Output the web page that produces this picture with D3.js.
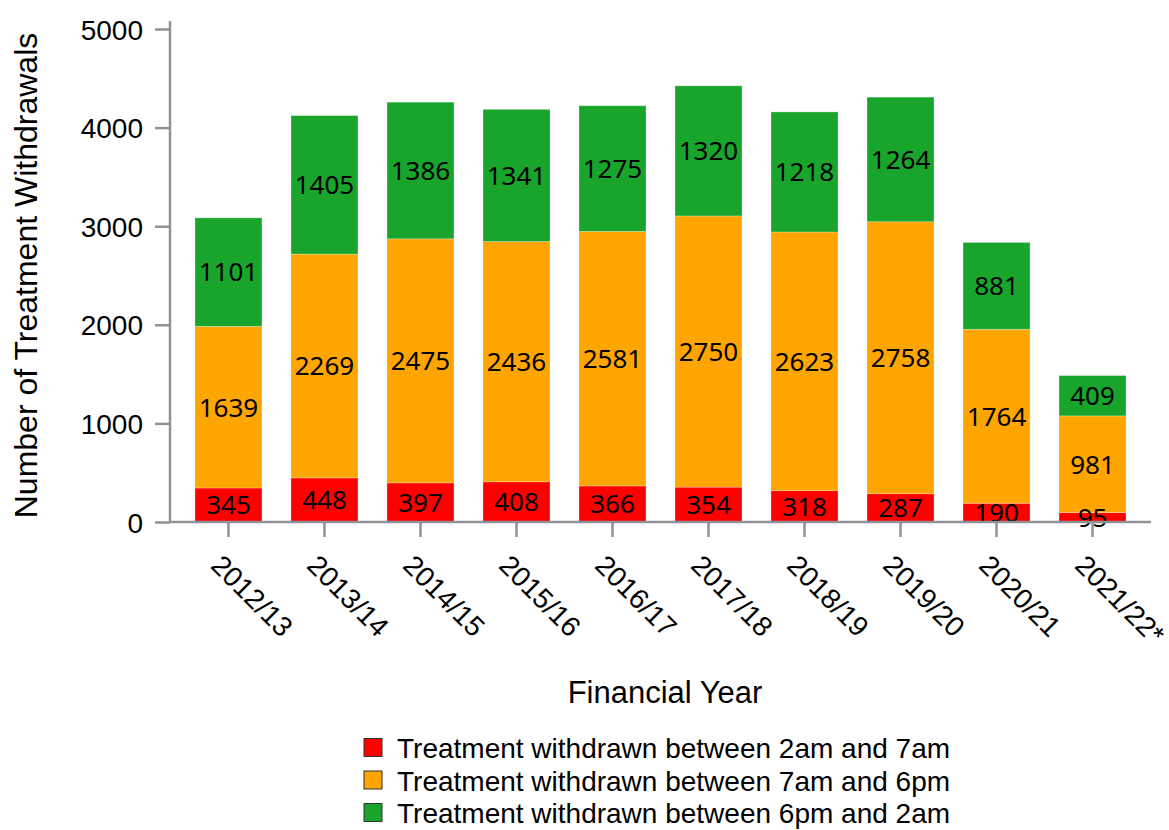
<!DOCTYPE html>
<html>
<head>
<meta charset="utf-8">
<script src="https://cdn.jsdelivr.net/npm/d3@7"></script>
<style>
  html, body { margin: 0; padding: 0; background: #fff; }
  svg { display: block; }
</style>
</head>
<body>
<svg id="chart" width="1169" height="830"></svg>
<script>
const categories = ["2012/13","2013/14","2014/15","2015/16","2016/17","2017/18","2018/19","2019/20","2020/21","2021/22*"];
const early   = [345, 448, 397, 408, 366, 354, 318, 287, 190, 95];     // 2am-7am
const day     = [1639, 2269, 2475, 2436, 2581, 2750, 2623, 2758, 1764, 981]; // 7am-6pm
const evening = [1101, 1405, 1386, 1341, 1275, 1320, 1218, 1264, 881, 409]; // 6pm-2am
const yTicks = [0, 1000, 2000, 3000, 4000, 5000];
const seriesNames = ["Treatment withdrawn between 2am and 7am","Treatment withdrawn between 7am and 6pm","Treatment withdrawn between 6pm and 2am"];
const seriesColors = ["#ff0000", "#ffa500", "#19a52c"];

const svg = d3.select("#chart");
const axisColor = "#8f9296";
const x0 = 170, x1 = 1151, yBottom = 522, yTop = 29;

const x = d3.scaleBand().domain(categories).range([x0, x1]).paddingInner(0.302).paddingOuter(0.26);
const y = d3.scaleLinear().domain([0, 5000]).range([yBottom, yTop]);

const rows = categories.map((c, i) => ({cat: c, early: early[i], day: day[i], evening: evening[i]}));
const stack = d3.stack().keys(["early", "day", "evening"]);
const layers = stack(rows);

const g = svg.append("g");
layers.forEach((layer, li) => {
  g.selectAll(null).data(layer).enter().append("rect")
    .attr("x", d => x(d.data.cat))
    .attr("width", x.bandwidth())
    .attr("y", d => y(d[1]))
    .attr("height", d => y(d[0]) - y(d[1]))
    .attr("fill", seriesColors[li])
    .attr("stroke", "rgba(255,255,255,0.35)")
    .attr("stroke-width", 0.8);
});
layers.forEach((layer, li) => {
  g.selectAll(null).data(layer).enter().append("text")
    .attr("x", d => x(d.data.cat) + x.bandwidth() / 2)
    .attr("y", d => (y(d[0]) + y(d[1])) / 2)
    .attr("dy", "0.36em")
    .attr("text-anchor", "middle")
    .attr("font-family", "'Noto Sans', 'Open Sans', sans-serif")
    .attr("font-size", 26)
    .attr("fill", "#000")
    .text(d => d.data[layer.key]);
});

// Y axis
const yAxis = d3.axisLeft(y).tickValues(yTicks).tickSize(15).tickPadding(12).tickFormat(d3.format("d"));
const ya = svg.append("g").attr("transform", `translate(${x0},0)`).call(yAxis);
ya.select(".domain").attr("stroke", axisColor).attr("stroke-width", 2.5).attr("d", `M0,${yTop - 8}V${yBottom}`);
ya.selectAll(".tick line").attr("stroke", axisColor).attr("stroke-width", 2.5);
ya.selectAll(".tick text").attr("font-family", "'Liberation Sans', Arial, sans-serif").attr("font-size", 28).attr("fill", "#000").attr("dy", "0.36em");

// X axis
const xAxis = d3.axisBottom(x).tickSize(15).tickPadding(0);
const xa = svg.append("g").attr("transform", `translate(0,${yBottom})`).call(xAxis);
xa.select(".domain").attr("stroke", axisColor).attr("stroke-width", 2.5).attr("d", `M${x0},0H${x1}`);
xa.selectAll(".tick line").attr("stroke", axisColor).attr("stroke-width", 2.5);
xa.selectAll(".tick text")
  .attr("font-family", "'Liberation Sans', Arial, sans-serif")
  .attr("font-size", 28)
  .attr("fill", "#000")
  .attr("text-anchor", "start")
  .attr("dy", null)
  .attr("y", null)
  .attr("transform", "translate(-19,45) rotate(45)");

// Axis titles
svg.append("text")
  .attr("transform", `translate(37,${(yTop + yBottom) / 2}) rotate(-90)`)
  .attr("text-anchor", "middle")
  .attr("font-family", "'Liberation Sans', Arial, sans-serif")
  .attr("font-size", 32)
  .attr("fill", "#000")
  .text("Number of Treatment Withdrawals");

svg.append("text")
  .attr("x", 665)
  .attr("y", 703)
  .attr("text-anchor", "middle")
  .attr("font-family", "'Liberation Sans', Arial, sans-serif")
  .attr("font-size", 31)
  .attr("fill", "#000")
  .text("Financial Year");

// Legend
const legend = svg.append("g");
seriesNames.forEach((name, i) => {
  const cy = 748 + i * 32.5;
  legend.append("rect")
    .attr("x", 364).attr("y", cy - 9.5).attr("width", 18).attr("height", 18)
    .attr("fill", seriesColors[i]).attr("stroke", "#333").attr("stroke-width", 1);
  legend.append("text")
    .attr("x", 397).attr("y", cy).attr("dy", "0.36em")
    .attr("font-family", "'Liberation Sans', Arial, sans-serif")
    .attr("font-size", 28)
    .attr("fill", "#000")
    .text(name);
});
</script>
</body>
</html>
